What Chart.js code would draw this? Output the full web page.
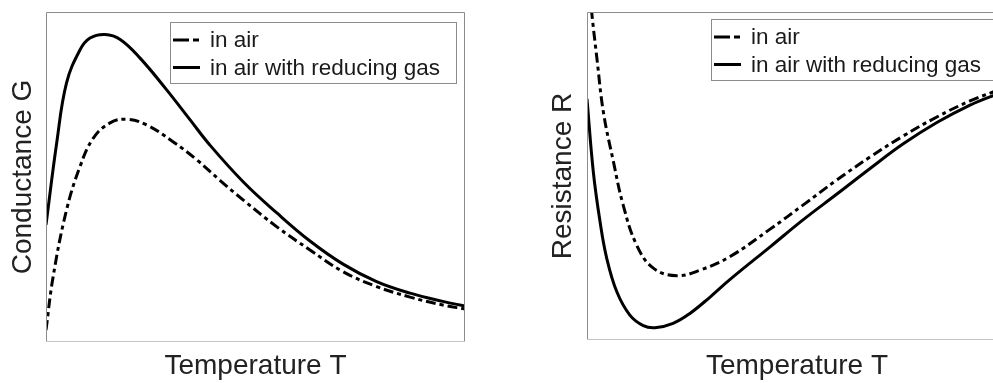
<!DOCTYPE html>
<html><head><meta charset="utf-8">
<script src="https://cdn.jsdelivr.net/npm/chart.js@4.4.1/dist/chart.umd.min.js"></script>
<style>
html,body{margin:0;padding:0;background:#fff;overflow:hidden;width:993px;height:383px;position:relative;}
.wrap{position:absolute;top:0;width:480px;height:383px;}
#w1{left:0;} #w2{left:540px;}
</style></head><body>
<div class="wrap" id="w1"><canvas id="c1" width="480" height="383"></canvas></div>
<div class="wrap" id="w2"><canvas id="c2" width="480" height="383"></canvas></div>
<script>
// ---- data (normalised 0..100 axes) ----
const seriesLabels = ['in air', 'in air with reducing gas'];
const xTitle = 'Temperature T';
const leftYTitle = 'Conductance G';
const rightYTitle = 'Resistance R';

// Left panel: conductance
const condAirX = [0, 1.7, 4.9, 8.1, 11.3, 15.3, 19.3, 24.0, 30.3, 36.0, 41.5, 47.1, 55.1, 63.0, 70.9, 78.9, 86.9, 94.7, 100];
const condAirY = [3.6, 19.8, 40.0, 53.1, 61.8, 66.4, 67.5, 65.8, 60.7, 55.2, 49.0, 43.0, 34.9, 27.9, 21.3, 16.8, 13.6, 11.2, 10.0];
const condGasX = [0, 2.55, 4.9, 8.1, 10.5, 14.1, 17.7, 22.4, 28.8, 34.4, 39.1, 47.1, 55.1, 63.0, 70.9, 78.9, 86.9, 94.7, 100];
const condGasY = [35.5, 60.3, 78.5, 88.5, 92.1, 93.2, 91.7, 86.1, 76.4, 67.3, 59.7, 48.5, 39.1, 30.6, 23.6, 18.3, 14.8, 12.3, 10.9];

// Right panel: resistance
const resAirX = [0, 1.1, 2.4, 3.9, 6.3, 8.6, 11.8, 15.8, 21.4, 26.9, 34.0, 43.6, 51.5, 59.5, 67.4, 75.3, 83.3, 91.2, 96.7, 100];
const resAirY = [114.3, 100.1, 85.4, 69.5, 54.3, 41.2, 29.0, 21.9, 19.6, 21.3, 25.4, 33.8, 41.2, 48.8, 55.8, 62.2, 68.0, 72.9, 75.6, 77.1];
const resGasX = [0, 1.5, 3.1, 4.7, 7.1, 10.2, 13.4, 16.2, 20.5, 24.5, 29.3, 34.0, 43.6, 51.5, 59.5, 67.4, 75.3, 83.3, 91.2, 96.7, 100];
const resGasY = [73.5, 51.3, 36.1, 24.9, 14.7, 7.6, 4.4, 3.75, 5.1, 8.1, 13.1, 18.4, 28.4, 36.7, 44.5, 52.3, 59.8, 66.3, 71.6, 74.5, 75.9];

const FONT = '"Liberation Sans", Arial, Helvetica, sans-serif';
const pts = (xs, ys) => xs.map((x, i) => ({x: x, y: ys[i]}));

const frameLegend = {
  id: 'frameLegend',
  afterDatasetsDraw(chart, args, o) {
    const ctx = chart.ctx, a = chart.chartArea;
    ctx.save();
    ctx.setLineDash([]);
    ctx.lineWidth = 1;
    ctx.strokeStyle = '#8c8c8c';
    ctx.beginPath();
    ctx.moveTo(a.left + 0.5, a.bottom); ctx.lineTo(a.left + 0.5, a.top + 0.5);
    ctx.lineTo(a.right - 0.5, a.top + 0.5); ctx.lineTo(a.right - 0.5, a.bottom);
    ctx.stroke();
    ctx.strokeStyle = '#c4c4c4';
    ctx.beginPath();
    ctx.moveTo(a.left, a.bottom - 0.5); ctx.lineTo(a.right, a.bottom - 0.5);
    ctx.stroke();
    // legend box
    const bx = Math.round(a.left + o.boxLeft), by = Math.round(a.top + o.boxTop);
    ctx.fillStyle = '#fff';
    ctx.fillRect(bx, by, o.boxW, o.boxH);
    ctx.strokeStyle = '#8c8c8c';
    ctx.strokeRect(bx + 0.5, by + 0.5, o.boxW, o.boxH);
    chart.data.datasets.forEach((ds, i) => {
      const base = by + o.rowBase[i];
      ctx.beginPath();
      ctx.setLineDash(o.sampleDash[i]);
      ctx.lineWidth = ds.borderWidth;
      ctx.strokeStyle = ds.borderColor;
      ctx.moveTo(bx + 3, base - 7); ctx.lineTo(bx + 30, base - 7);
      ctx.stroke();
      ctx.setLineDash([]);
      ctx.fillStyle = '#1a1a1a';
      ctx.font = '22.5px ' + FONT;
      ctx.textBaseline = 'alphabetic';
      ctx.textAlign = 'left';
      ctx.fillText(ds.label, bx + 40, base);
    });
    ctx.restore();
  }
};

function makeChart(id, airX, airY, gasX, gasY, yTitle, pad, yW, xH, boxTop) {
  return new Chart(document.getElementById(id), {
    type: 'line',
    data: {
      datasets: [
        {label: seriesLabels[0], data: pts(airX, airY), borderColor: '#000', borderWidth: 3,
         borderDash: [10, 4, 4, 4], pointRadius: 0, tension: 0.4, fill: false},
        {label: seriesLabels[1], data: pts(gasX, gasY), borderColor: '#000', borderWidth: 3,
         pointRadius: 0, tension: 0.4, fill: false}
      ]
    },
    options: {
      responsive: false,
      animation: false,
      events: [],
      layout: {padding: pad},
      plugins: {
        legend: {display: false},
        tooltip: {enabled: false},
        frameLegend: {boxLeft: 124, boxTop: boxTop, boxW: 286, boxH: 61,
                      rowBase: [25, 52.5], sampleDash: [[16, 4, 6, 10], []]}
      },
      scales: {
        x: {type: 'linear', min: 0, max: 100,
            ticks: {display: false}, grid: {display: false}, border: {display: false},
            title: {display: true, text: xTitle, color: '#222', font: {size: 28, family: FONT},
                    padding: {top: 0, bottom: 0}},
            afterFit(s) { s.height = xH; }},
        y: {type: 'linear', min: 0, max: 100,
            ticks: {display: false}, grid: {display: false}, border: {display: false},
            title: {display: true, text: yTitle, color: '#222', font: {size: 28, family: FONT},
                    padding: {top: 6, bottom: 0}},
            afterFit(s) { s.width = yW; }}
      }
    },
    plugins: [frameLegend]
  });
}

makeChart('c1', condAirX, condAirY, condGasX, condGasY, leftYTitle,
          {top: 12, right: 15, left: 0, bottom: 0}, 46, 41, 10);
makeChart('c2', resAirX, resAirY, resGasX, resGasY, rightYTitle,
          {top: 12, right: 13, left: 0, bottom: 0}, 47, 43, 7);
</script>
</body></html>
